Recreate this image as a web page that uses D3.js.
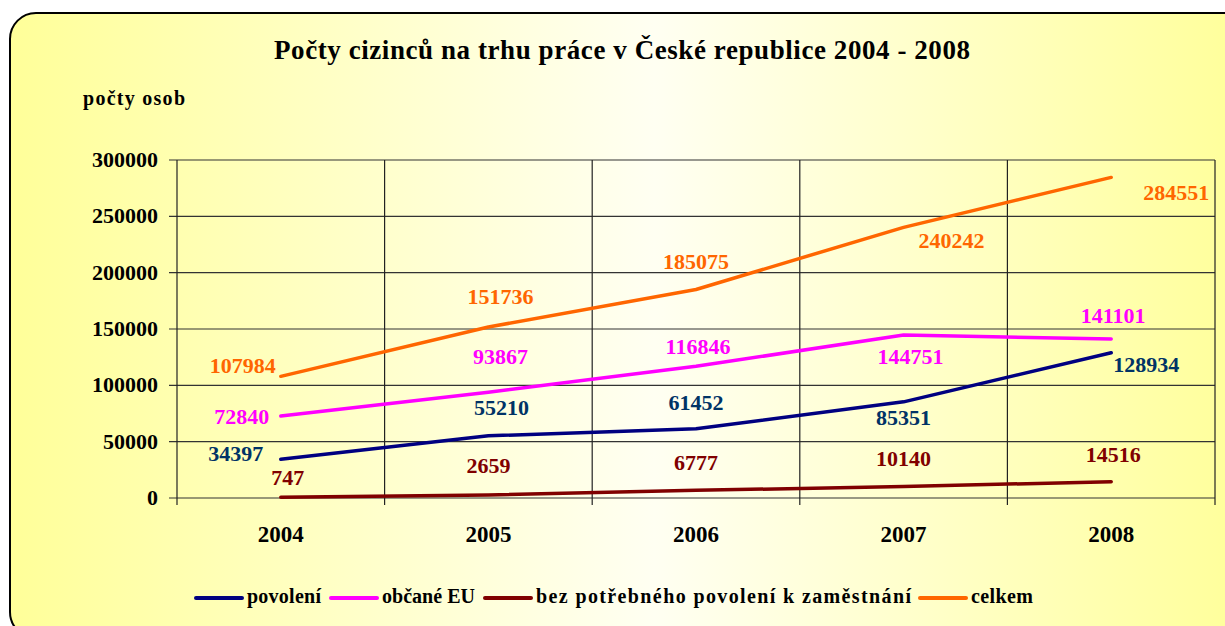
<!DOCTYPE html>
<html><head><meta charset="utf-8">
<script src="https://cdn.jsdelivr.net/npm/d3@7/dist/d3.min.js"></script>
<style>body{margin:0;background:#fff;}svg{display:block;}</style>
</head><body>
<svg id="c" width="1225" height="626"></svg>
<script>
const years = ["2004","2005","2006","2007","2008"];
const povoleni = [34397, 55210, 61452, 85351, 128934];
const obcaneEU = [72840, 93867, 116846, 144751, 141101];
const bezPovoleni = [747, 2659, 6777, 10140, 14516];
const celkem = [107984, 151736, 185075, 240242, 284551];
const yTicks = [0, 50000, 100000, 150000, 200000, 250000, 300000];
const seriesNames = ["povolení", "občané EU", "bez potřebného povolení k zaměstnání", "celkem"];

// styling / label offsets (layout, not data)
const seriesStyle = [
  {values: povoleni, line: "#000080", label: "#003366", off: [[-45,-6],[13,-29],[0,-27],[0,15],[35,11]]},
  {values: obcaneEU, line: "#FF00FF", label: "#FF00FF", off: [[-39,0],[12,-36],[2,-20],[7,21],[2,-24]]},
  {values: bezPovoleni, line: "#800000", label: "#800000", off: [[7,-20],[0,-30],[0,-28],[0,-29],[2,-28]]},
  {values: celkem, line: "#FF6600", label: "#FF6600", off: [[-38,-11],[12,-31],[0,-28],[48,13],[65,15]]}
];

const svg = d3.select("#c");
const font = "'Liberation Serif', 'Times New Roman', serif";

const defs = svg.append("defs");
const g = defs.append("linearGradient").attr("id","bg").attr("x1","0").attr("x2","1").attr("y1","0").attr("y2","0");
g.append("stop").attr("offset","0").attr("stop-color","#FFFF99");
g.append("stop").attr("offset","0.52").attr("stop-color","#FFFFF2");
g.append("stop").attr("offset","1").attr("stop-color","#FFFF99");

svg.append("rect").attr("x",10).attr("y",13).attr("width",1240).attr("height",625)
  .attr("rx",26).attr("ry",26).attr("fill","url(#bg)").attr("stroke","#000").attr("stroke-width",2);

const L = 177, R = 1215, T = 160, B = 498;
const x = d3.scaleBand().domain(years).range([L, R]);
const y = d3.scaleLinear().domain([0, 300000]).range([B, T]);

// horizontal grid
svg.append("g").selectAll("line").data(yTicks).join("line")
  .attr("x1", L - 8).attr("x2", R).attr("y1", d => y(d)).attr("y2", d => y(d))
  .attr("stroke", "#333").attr("stroke-width", 1.2);
// vertical grid
const bounds = years.map(d => x(d)).concat([R]);
svg.append("g").selectAll("line").data(bounds).join("line")
  .attr("x1", d => d).attr("x2", d => d).attr("y1", T).attr("y2", B + 7)
  .attr("stroke", "#222").attr("stroke-width", 1.2);

// y axis labels
svg.append("g").selectAll("text").data(yTicks).join("text")
  .attr("x", 158).attr("y", d => y(d) + 7).attr("text-anchor","end")
  .attr("font-family", font).attr("font-weight","bold").attr("font-size", 22).attr("fill","#000")
  .text(d => d);
// x axis labels
svg.append("g").selectAll("text").data(years).join("text")
  .attr("x", d => x(d) + x.bandwidth()/2).attr("y", 542).attr("text-anchor","middle")
  .attr("font-family", font).attr("font-weight","bold").attr("font-size", 23).attr("fill","#000")
  .text(d => d);

// title
svg.append("text").attr("x", 274).attr("y", 59)
  .attr("font-family", font).attr("font-weight","bold").attr("font-size", 27).attr("fill","#000")
  .attr("textLength", 696).attr("lengthAdjust","spacing")
  .text("Počty cizinců na trhu práce v České republice 2004 - 2008");
svg.append("text").attr("x", 83).attr("y", 105)
  .attr("font-family", font).attr("font-weight","bold").attr("font-size", 20).attr("fill","#000")
  .attr("textLength", 102).attr("lengthAdjust","spacing")
  .text("počty osob");

const cx = d => x(d) + x.bandwidth()/2;
const line = d3.line().x((v,i) => cx(years[i])).y(v => y(v));

seriesStyle.forEach(s => {
  svg.append("path").datum(s.values).attr("d", line).attr("fill","none")
    .attr("stroke", s.line).attr("stroke-width", 3.5).attr("stroke-linejoin","round").attr("stroke-linecap","round");
});
seriesStyle.forEach(s => {
  svg.append("g").selectAll("text").data(s.values).join("text")
    .attr("x", (v,i) => cx(years[i]) + s.off[i][0])
    .attr("y", (v,i) => y(v) + s.off[i][1] + 8)
    .attr("text-anchor","middle")
    .attr("font-family", font).attr("font-weight","bold").attr("font-size", 22).attr("fill", s.label)
    .text(v => v);
});

// legend
const legendX = [196, 331, 485, 920];
const legendW = [74, 93, 375, 62];
const lg = svg.append("g");
seriesStyle.forEach((s, i) => {
  lg.append("line").attr("x1", legendX[i]).attr("x2", legendX[i] + 46).attr("y1", 598).attr("y2", 598)
    .attr("stroke", s.line).attr("stroke-width", 4).attr("stroke-linecap","round");
  lg.append("text").attr("x", legendX[i] + 51).attr("y", 603)
    .attr("font-family", font).attr("font-weight","bold").attr("font-size", 20).attr("fill","#000")
    .attr("textLength", legendW[i]).attr("lengthAdjust","spacing")
    .text(seriesNames[i]);
});
</script>
</body></html>
